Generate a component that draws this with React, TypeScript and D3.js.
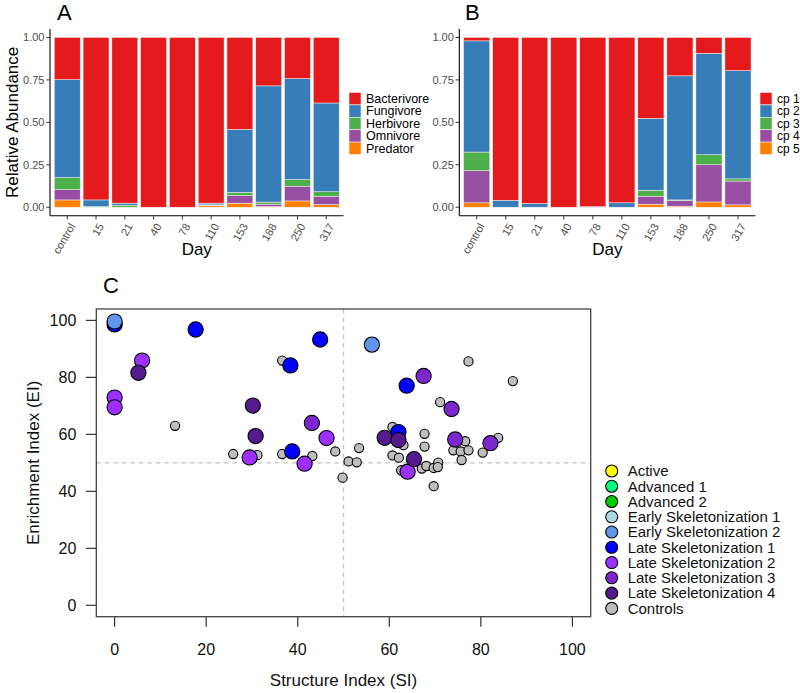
import React from 'react';
import * as d3 from 'd3';

// ---------- Panel A / B data ----------
const days = ['control', '15', '21', '40', '78', '110', '153', '188', '250', '317'];

const trophicNames = ['Bacterivore', 'Fungivore', 'Herbivore', 'Omnivore', 'Predator'];
const bacterivore = [0.248, 0.957, 0.976, 1.0, 1.0, 0.976, 0.541, 0.285, 0.242, 0.386];
const fungivore = [0.577, 0.039, 0.012, 0, 0, 0.01, 0.372, 0.685, 0.595, 0.523];
const herbivore = [0.071, 0.004, 0.012, 0, 0, 0.002, 0.018, 0.012, 0.039, 0.026];
const omnivore = [0.061, 0, 0, 0, 0, 0.004, 0.045, 0.014, 0.087, 0.049];
const predator = [0.043, 0, 0, 0, 0, 0.008, 0.024, 0.004, 0.037, 0.016];

const cpNames = ['cp 1', 'cp 2', 'cp 3', 'cp 4', 'cp 5'];
const cp1 = [0.02, 0.959, 0.978, 1.0, 0.997, 0.974, 0.476, 0.226, 0.093, 0.195];
const cp2 = [0.655, 0.041, 0.022, 0, 0.003, 0.026, 0.424, 0.731, 0.598, 0.638];
const cp3 = [0.108, 0, 0, 0, 0, 0, 0.035, 0.004, 0.059, 0.013];
const cp4 = [0.191, 0, 0, 0, 0, 0, 0.047, 0.033, 0.219, 0.14];
const cp5 = [0.026, 0, 0, 0, 0, 0, 0.018, 0.006, 0.031, 0.014];

const yTicksBar = [0, 0.25, 0.5, 0.75, 1];
const set1 = ['#E41A1C', '#377EB8', '#4DAF4A', '#984EA3', '#FF7F00'];

// ---------- Panel C data ([SI, EI]) ----------
const controls = [
  [36.6, 85.9], [13.2, 63.0], [25.9, 53.1], [31.2, 52.7], [36.6, 53.1], [43.2, 52.4],
  [48.2, 54.0], [49.8, 44.8], [77.3, 85.6], [87.0, 78.7], [71.1, 71.3], [53.4, 55.2],
  [51.1, 50.5], [52.9, 50.2], [60.7, 62.6], [63.1, 56.2], [67.7, 60.2], [67.7, 55.7],
  [60.7, 52.6], [62.1, 51.8], [62.6, 47.4], [67.1, 48.0], [68.1, 48.9], [69.7, 48.2],
  [70.7, 50.1], [70.6, 48.5], [69.7, 41.8], [76.6, 57.6], [74.0, 54.4], [75.6, 54.0],
  [77.3, 54.4], [75.8, 51.0], [83.8, 58.8], [80.4, 53.6],
];
const lateSkel1 = [[0, 98.6], [17.7, 96.8], [44.9, 93.3], [38.4, 84.2], [38.8, 54.0], [63.8, 77.1], [62.0, 60.8]];
const earlySkel2 = [[0, 99.6], [56.2, 91.5]];
const lateSkel2 = [[6.0, 85.9], [0, 72.9], [0, 69.5], [46.3, 58.7], [29.5, 51.9], [41.5, 49.7], [64.0, 46.9]];
const lateSkel3 = [[43.1, 64.0], [67.5, 80.5], [73.6, 68.9], [74.4, 58.2], [82.1, 56.9]];
const lateSkel4 = [[5.2, 81.6], [30.2, 70.1], [30.8, 59.4], [59.0, 58.8], [62.0, 58.0], [65.4, 51.3]];

const stageNames = [
  'Active', 'Advanced 1', 'Advanced 2', 'Early Skeletonization 1', 'Early Skeletonization 2',
  'Late Skeletonization 1', 'Late Skeletonization 2', 'Late Skeletonization 3', 'Late Skeletonization 4', 'Controls',
];
const stageColors = [
  '#FFFF00', '#00FF7F', '#00CD00', '#ADD8E6', '#6495ED',
  '#0000FF', '#9B30FF', '#7D26CD', '#551A8B', '#BEBEBE',
];
const scatterTicks = [0, 20, 40, 60, 80, 100];

const FONT = '"Liberation Sans", Arial, Helvetica, sans-serif';

type BarProps = {
  letter: string;
  x0: number;
  x1: number;
  letterX: number;
  names: string[];
  values: number[][];
  legendX: number;
  legendFont: number;
  showYTitle: boolean;
};

function BarPanel({ letter, x0, x1, letterX, names, values, legendX, legendFont, showYTitle }: BarProps) {
  const top = 29;
  const bottom = 215.7;
  const y = d3.scaleLinear().domain([-0.05, 1.05]).range([bottom, top]);
  const x = d3.scaleBand<string>().domain(days).range([x0, x1]).paddingInner(0.1).paddingOuter(0.15);
  const keys = names.slice().reverse();
  const rows = days.map((d, i) => {
    const r: any = { day: d };
    names.forEach((n, k) => (r[n] = values[k][i]));
    return r;
  });
  const stacked = d3.stack<any>().keys(keys)(rows);
  const colorOf = (n: string) => set1[names.indexOf(n)];
  const keyH = 12.4;
  const legTop = 92.5;
  return (
    <g>
      <text x={letterX} y={20} fontSize={22} fontFamily={FONT} fill="#000">{letter}</text>
      {stacked.map((layer) => (
        <g key={layer.key}>
          {layer.map((seg, i) =>
            seg[1] - seg[0] > 0 ? (
              <rect
                key={i}
                x={x(days[i])}
                width={x.bandwidth()}
                y={y(seg[1])}
                height={y(seg[0]) - y(seg[1])}
                fill={colorOf(layer.key as string)}
                stroke="#f6f0f0"
                strokeWidth={0.5}
              />
            ) : null
          )}
        </g>
      ))}
      <line x1={x0} x2={x0} y1={top} y2={bottom} stroke="#000" strokeWidth={1.1} />
      <line x1={x0} x2={x1} y1={bottom} y2={bottom} stroke="#000" strokeWidth={1.1} />
      {yTicksBar.map((t) => (
        <g key={t}>
          <line x1={x0 - 3.7} x2={x0} y1={y(t)} y2={y(t)} stroke="#333" strokeWidth={1} />
          <text x={x0 - 5.5} y={y(t)} dy="0.35em" textAnchor="end" fontSize={11} fontFamily={FONT} fill="#4D4D4D">
            {d3.format('.2f')(t)}
          </text>
        </g>
      ))}
      {days.map((d) => {
        const cx = (x(d) as number) + x.bandwidth() / 2;
        return (
          <g key={d}>
            <line x1={cx} x2={cx} y1={bottom} y2={bottom + 3.7} stroke="#333" strokeWidth={1} />
            <text
              transform={`translate(${cx + 1.5},${bottom + 6.5}) rotate(-60)`}
              dy="0.72em"
              textAnchor="end"
              fontSize={11}
              fontFamily={FONT}
              fill="#4D4D4D"
            >
              {d}
            </text>
          </g>
        );
      })}
      <text x={(x0 + x1) / 2} y={255} textAnchor="middle" fontSize={17} fontFamily={FONT} fill="#000">Day</text>
      {showYTitle && (
        <text transform={`translate(18,${(top + bottom) / 2}) rotate(-90)`} textAnchor="middle" fontSize={17} fontFamily={FONT} fill="#000">
          Relative Abundance
        </text>
      )}
      {names.map((n, i) => (
        <g key={n}>
          <rect x={legendX} y={legTop + i * keyH} width={12} height={keyH} fill={set1[i]} stroke="#f6f0f0" strokeWidth={0.6} />
          <text x={legendX + 17} y={legTop + i * keyH + keyH / 2} dy="0.35em" fontSize={legendFont} fontFamily={FONT} fill="#000">{n}</text>
        </g>
      ))}
    </g>
  );
}

function ScatterPanel() {
  const L = 96.3, R = 590.7, T = 309, B = 616.7;
  const x = d3.scaleLinear().domain([-4, 104]).range([L, R]);
  const y = d3.scaleLinear().domain([-4, 104]).range([B, T]);
  const groups: { pts: number[][]; color: string; r: number }[] = [
    { pts: controls, color: stageColors[9], r: 4.6 },
    { pts: lateSkel1, color: stageColors[5], r: 7.6 },
    { pts: earlySkel2, color: stageColors[4], r: 7.6 },
    { pts: lateSkel2, color: stageColors[6], r: 7.6 },
    { pts: lateSkel3, color: stageColors[7], r: 7.6 },
    { pts: lateSkel4, color: stageColors[8], r: 7.6 },
  ];
  const legX = 611.7, legY0 = 471, legStep = 15.26;
  return (
    <g fontFamily={FONT}>
      <text x={103} y={293} fontSize={22} fill="#000">C</text>
      <line x1={x(50)} x2={x(50)} y1={T} y2={B} stroke="#C4C4C4" strokeWidth={1.3} strokeDasharray="4.5,4" />
      <line x1={L} x2={R} y1={y(50)} y2={y(50)} stroke="#C4C4C4" strokeWidth={1.3} strokeDasharray="4.5,4" />
      {groups.map((g, gi) => (
        <g key={gi}>
          {g.pts.map((p, i) => (
            <circle key={i} cx={x(p[0])} cy={y(p[1])} r={g.r} fill={g.color} stroke="#000" strokeWidth={1.1} />
          ))}
        </g>
      ))}
      <rect x={L} y={T} width={R - L} height={B - T} fill="none" stroke="#444" strokeWidth={1.3} />
      {scatterTicks.map((t) => (
        <g key={'y' + t}>
          <line x1={L - 10.5} x2={L} y1={y(t)} y2={y(t)} stroke="#333" strokeWidth={1.2} />
          <text x={L - 20} y={y(t)} dy="0.36em" textAnchor="end" fontSize={16} fill="#111">{t}</text>
        </g>
      ))}
      {scatterTicks.map((t) => (
        <g key={'x' + t}>
          <line x1={x(t)} x2={x(t)} y1={B} y2={B + 10} stroke="#333" strokeWidth={1.2} />
          <text x={x(t)} y={654.5} textAnchor="middle" fontSize={16} fill="#111">{t}</text>
        </g>
      ))}
      <text x={(L + R) / 2} y={686} textAnchor="middle" fontSize={17} fill="#111">Structure Index (SI)</text>
      <text transform={`translate(39,${(T + B) / 2}) rotate(-90)`} textAnchor="middle" fontSize={17} fill="#111">
        Enrichment Index (EI)
      </text>
      {stageNames.map((n, i) => (
        <g key={n}>
          <circle cx={legX} cy={legY0 + i * legStep} r={6} fill={stageColors[i]} stroke="#000" strokeWidth={1.1} />
          <text x={legX + 16} y={legY0 + i * legStep} dy="0.36em" fontSize={15} fill="#111">{n}</text>
        </g>
      ))}
    </g>
  );
}

export default function App() {
  return (
    <svg
      width={800}
      height={693}
      viewBox="0 0 800 693"
      style={{ position: 'absolute', left: 0, top: 0, background: '#fff' }}
    >
      <rect x={0} y={0} width={800} height={693} fill="#fff" />
      <BarPanel
        letter="A"
        x0={50}
        x1={343.5}
        letterX={57}
        names={trophicNames}
        values={[bacterivore, fungivore, herbivore, omnivore, predator]}
        legendX={349}
        legendFont={12.5}
        showYTitle={true}
      />
      <BarPanel
        letter="B"
        x0={459.3}
        x1={755.4}
        letterX={465}
        names={cpNames}
        values={[cp1, cp2, cp3, cp4, cp5]}
        legendX={760}
        legendFont={12}
        showYTitle={false}
      />
      <ScatterPanel />
    </svg>
  );
}
